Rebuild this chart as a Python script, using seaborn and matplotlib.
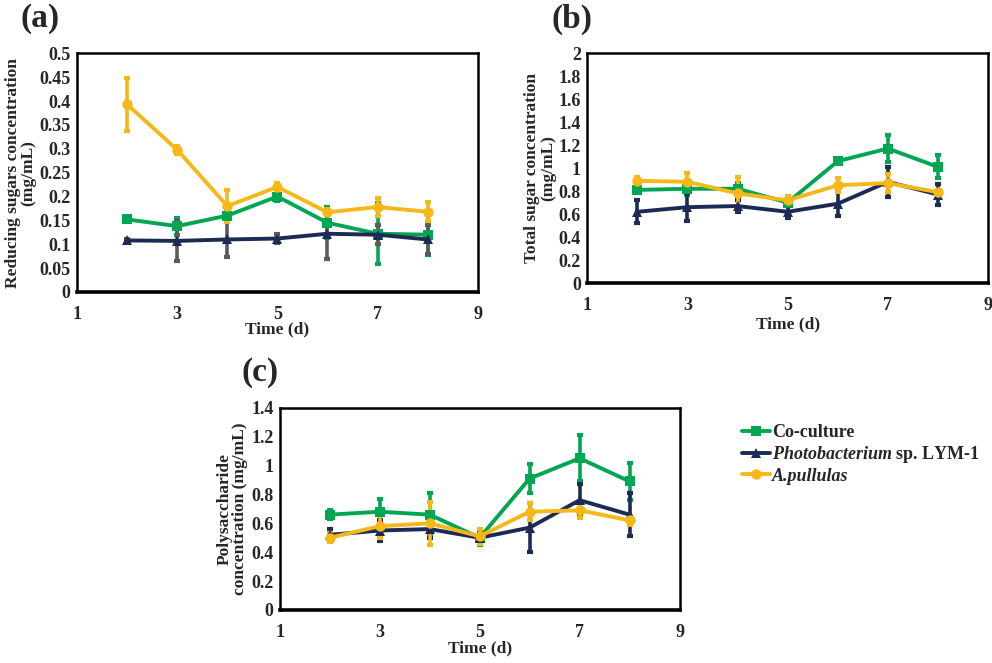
import matplotlib

matplotlib.use("Agg")
import matplotlib.pyplot as plt
import numpy as np
import pandas as pd
import seaborn as sns

# sampling days
days = [2, 3, 4, 5, 6, 7, 8]

series_names = ["Co-culture", "Photobacterium sp. LYM-1", "A.pullulas"]
legend_labels = ["Co-culture", r"$\mathbf{\it{Photobacterium}}$ sp. LYM-1", "A.pullulas"]

# (a) reducing sugars, mg/mL
reducing_co = [0.152, 0.138, 0.160, 0.200, 0.145, 0.122, 0.120]
reducing_co_err = [0.004, 0.018, 0.010, 0.010, 0.032, 0.064, 0.042]
reducing_photo = [0.108, 0.107, 0.110, 0.112, 0.122, 0.120, 0.110]
reducing_photo_err = [0.004, 0.042, 0.036, 0.010, 0.052, 0.020, 0.030]
reducing_apul = [0.393, 0.298, 0.180, 0.220, 0.167, 0.178, 0.168]
reducing_apul_err = [0.055, 0.008, 0.033, 0.008, 0.006, 0.018, 0.020]

# (b) total sugar, mg/mL
total_co = [0.81, 0.82, 0.82, 0.70, 1.06, 1.17, 1.01]
total_co_err = [0.03, 0.05, 0.05, 0.02, 0.02, 0.12, 0.10]
total_photo = [0.62, 0.66, 0.67, 0.62, 0.69, 0.88, 0.77]
total_photo_err = [0.10, 0.12, 0.05, 0.05, 0.11, 0.13, 0.09]
total_apul = [0.89, 0.88, 0.78, 0.72, 0.85, 0.87, 0.79]
total_apul_err = [0.03, 0.08, 0.14, 0.04, 0.06, 0.08, 0.02]

# (c) polysaccharide, mg/mL
poly_co = [0.66, 0.68, 0.66, 0.50, 0.91, 1.05, 0.89]
poly_co_err = [0.03, 0.09, 0.15, 0.05, 0.10, 0.16, 0.13]
poly_photo = [0.52, 0.55, 0.56, 0.50, 0.57, 0.76, 0.66]
poly_photo_err = [0.04, 0.07, 0.06, 0.03, 0.17, 0.11, 0.15]
poly_apul = [0.50, 0.58, 0.60, 0.51, 0.68, 0.69, 0.62]
poly_apul_err = [0.03, 0.08, 0.15, 0.05, 0.06, 0.05, 0.03]

x_ticks = [1, 3, 5, 7, 9]

GREEN = "#00A651"
NAVY = "#1C2A55"
YELLOW = "#F5B818"
GREY = "#5A5A5A"

sns.set_theme(style="white")
plt.rcParams["font.family"] = ["Liberation Serif", "DejaVu Serif"]
plt.rcParams["font.weight"] = "bold"
plt.rcParams["mathtext.fontset"] = "custom"
plt.rcParams["mathtext.it"] = "Liberation Serif:italic:bold"
plt.rcParams["mathtext.bf"] = "Liberation Serif:italic:bold"
plt.rcParams["mathtext.rm"] = "Liberation Serif:bold"

TICK_FS = 13
LABEL_FS = 12.5


def fmt(v):
    return "0" if abs(v) < 1e-9 else f"{v:g}"


def draw_panel(ax, data, ymax, ystep, ylabel, err_colors, xlabelpad):
    styles = [(GREEN, "s", 7), (NAVY, "^", 7), (YELLOW, "o", 7.5)]
    for (vals, errs), (color, marker, ms), ecol, name in zip(data, styles, err_colors, series_names):
        ax.errorbar(days, vals, yerr=errs, fmt="none", ecolor=ecol, elinewidth=2.6,
                    capsize=2.5, capthick=3, zorder=2)
        df = pd.DataFrame({"day": days, "value": vals})
        sns.lineplot(data=df, x="day", y="value", ax=ax, color=color, marker=marker,
                     markersize=ms, markeredgewidth=0, linewidth=2.8, label=name,
                     legend=False, zorder=3)
    ax.set_xlim(1, 9)
    ax.set_ylim(0, ymax)
    ax.set_xticks(x_ticks)
    yt = np.round(np.arange(0, ymax + ystep / 2, ystep), 3)
    ax.set_yticks(yt)
    ax.set_yticklabels([fmt(v) for v in yt])
    ax.set_xticklabels([str(v) for v in x_ticks])
    ax.tick_params(axis="both", labelsize=TICK_FS, length=4, width=1.8, color="black")
    ax.tick_params(axis="x", direction="inout", pad=8)
    ax.tick_params(axis="y", direction="out", length=3, pad=1.5)
    for lab in ax.get_xticklabels() + ax.get_yticklabels():
        lab.set_fontweight("bold")
    for sp in ax.spines.values():
        sp.set_color("black")
        sp.set_linewidth(1.8)
    ax.spines["bottom"].set_linewidth(2.6)
    ax.set_xlabel("Time (d)", fontsize=LABEL_FS, fontweight="bold", labelpad=xlabelpad)
    ax.set_ylabel(ylabel, fontsize=LABEL_FS, fontweight="bold", labelpad=2, linespacing=0.95)
    return ax


fig = plt.figure(figsize=(9.92, 6.63), dpi=100)
ax_a = fig.add_axes([0.0776, 0.5596, 0.404, 0.360])
ax_b = fig.add_axes([0.592, 0.573, 0.404, 0.347])
ax_c = fig.add_axes([0.282, 0.080, 0.403, 0.305])

draw_panel(ax_a,
           [(reducing_co, reducing_co_err), (reducing_photo, reducing_photo_err),
            (reducing_apul, reducing_apul_err)],
           0.5, 0.05, "Reducing sugars concentration\n(mg/mL)",
           [GREEN, GREY, YELLOW], -1)
draw_panel(ax_b,
           [(total_co, total_co_err), (total_photo, total_photo_err),
            (total_apul, total_apul_err)],
           2.0, 0.2, "Total sugar concentration\n(mg/mL)",
           [GREEN, NAVY, YELLOW], 2)
draw_panel(ax_c,
           [(poly_co, poly_co_err), (poly_photo, poly_photo_err),
            (poly_apul, poly_apul_err)],
           1.4, 0.2, "Polysaccharide\nconcentration (mg/mL)",
           [GREEN, NAVY, YELLOW], 0)

fig.text(0.021, 0.995, "(a)", fontsize=24, fontweight="bold", va="top", ha="left")
fig.text(0.556, 0.995, "(b)", fontsize=24, fontweight="bold", va="top", ha="left")
fig.text(0.243, 0.462, "(c)", fontsize=24, fontweight="bold", va="top", ha="left")

handles = [h for h in ax_c.get_lines() if h.get_label() in series_names]
leg = fig.legend(handles, legend_labels, loc="upper left", bbox_to_anchor=(0.741, 0.371),
                 frameon=False, fontsize=TICK_FS, handlelength=1.55, handletextpad=0.1,
                 labelspacing=0.15, borderaxespad=0)
for t in leg.get_texts():
    t.set_fontweight("bold")
leg.get_texts()[2].set_fontstyle("italic")

fig.savefig("out.png", dpi=100)
